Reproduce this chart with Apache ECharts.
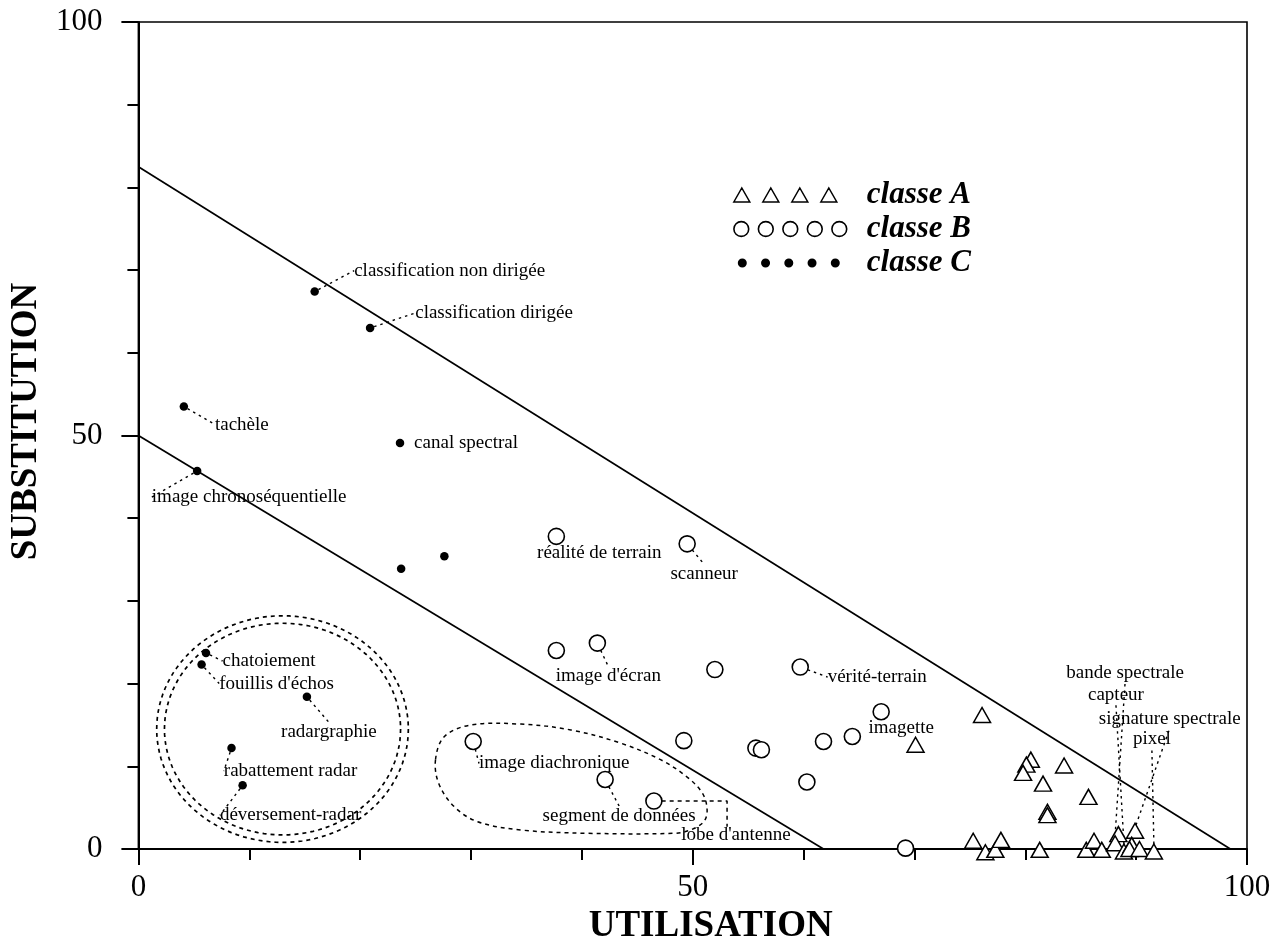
<!DOCTYPE html>
<html>
<head>
<meta charset="utf-8">
<script src="https://cdn.jsdelivr.net/npm/echarts@6/dist/echarts.min.js"></script>
<style>html,body{margin:0;padding:0;background:#fff}#c{width:1278px;height:950px}</style>
</head>
<body>
<div id="c"></div>
<script>
// ---------- data ----------
const xTickValues = [0, 50, 100];
const yTickValues = [0, 50, 100];

const classANames = ['', '', '', '', '', '', '', '', '', '', '', '', '', '', '', '', '', '', '', '',
  'bande spectrale', 'capteur', 'signature spectrale', '', '', 'pixel'];
const classAX = [70.1, 76.1, 80.5, 80.1, 79.8, 83.5, 81.6, 82.0, 82.0, 85.7, 75.3, 76.4, 77.3, 77.8, 81.3, 85.5, 86.2, 86.9, 88.4, 89.9,
  88.1, 88.9, 89.6, 89.4, 90.3, 91.6];
const classAY = [12.6, 16.2, 10.8, 10.2, 9.2, 10.1, 7.9, 4.5, 4.1, 6.3, 1.0, -0.4, -0.1, 1.1, -0.1, -0.1, 1.0, -0.1, 1.8, 2.2,
  0.7, -0.3, 0.5, 0.0, 0.0, -0.3];

const classBNames = ['réalité de terrain', 'scanneur', '', "image d'écran", '', 'vérité-terrain', 'image diachronique', '', '', '', '', '',
  'segment de données', "lobe d'antenne", 'imagette', '', ''];
const classBX = [37.7, 49.5, 37.7, 41.4, 52.0, 59.7, 30.2, 49.2, 55.7, 56.2, 61.8, 60.3, 42.1, 46.5, 67.0, 64.4, 69.2];
const classBY = [37.8, 36.9, 24.0, 24.9, 21.7, 22.0, 13.0, 13.1, 12.2, 12.0, 13.0, 8.1, 8.4, 5.8, 16.6, 13.6, 0.1];

const classCNames = ['classification non dirigée', 'classification dirigée', 'tachèle', 'canal spectral', 'image chronoséquentielle', '', '',
  'chatoiement', "fouillis d'échos", 'radargraphie', 'rabattement radar', 'déversement-radar'];
const classCX = [15.9, 20.9, 4.1, 23.6, 5.3, 27.6, 23.7, 6.1, 5.7, 15.2, 8.4, 9.4];
const classCY = [67.4, 63.0, 53.5, 49.1, 45.7, 35.4, 33.9, 23.7, 22.3, 18.4, 12.2, 7.7];

// boundary lines (endpoints in data units)
const lowerLine = [[0, 50], [61.8, 0]];
const upperLine = [[0, 82.5], [98.5, 0]];

// annotation enclosures (data units): [cx, cy, rx, ry]
const radarEnclosure = [[13.0, 14.5, 11.35, 13.7], [13.0, 14.5, 10.65, 12.8]];
const diachroniqueEnclosure = [[26.8, 10.8], [27.6, 13.6], [30.0, 15.0], [34.5, 15.1], [39.0, 14.4], [43.5, 12.8], [47.1, 10.8],
  [49.5, 8.7], [50.9, 6.7], [51.3, 4.7], [51.0, 3.3], [49.8, 2.3], [48.3, 1.9], [40.5, 1.9], [34.5, 2.3], [30.6, 3.3], [28.5, 5.1], [27.1, 7.9]];
const lobeLeader = [[47.2, 5.8], [53.1, 5.8], [53.1, 2.7]];

// ---------- layout (label offsets in px from point centre to label centre) ----------
const labelOffsets = {
  'classification non dirigée': [135, -21],
  'classification dirigée': [124, -15],
  'tachèle': [58, 18],
  'canal spectral': [66, 0],
  'image chronoséquentielle': [52, 26],
  'chatoiement': [63, 8],
  "fouillis d'échos": [75, 19],
  'radargraphie': [22, 35],
  'rabattement radar': [59, 23],
  'déversement-radar': [48, 30],
  'réalité de terrain': [43, 17],
  'scanneur': [17, 30],
  "image d'écran": [11, 33],
  'vérité-terrain': [77, 10],
  'image diachronique': [81, 22],
  'segment de données': [14, 36],
  "lobe d'antenne": [82, 34],
  'imagette': [20, 16],
  'bande spectrale': [10, -170],
  'capteur': [-8, -156],
  'signature spectrale': [38, -126],
  'pixel': [-2, -112]
};
const noLeader = ['canal spectral', 'réalité de terrain', 'imagette', "lobe d'antenne"];

const FONT = "'Liberation Serif', 'DejaVu Serif', 'Times New Roman', serif";

function buildItems(names, xs, ys) {
  return xs.map((x, i) => {
    const n = names[i] || '';
    return {
      name: n,
      value: [x, ys[i]],
      label: { show: n !== '' },
      labelLine: { show: n !== '' && noLeader.indexOf(n) < 0 }
    };
  });
}

const labelCfg = {
  show: true, position: 'inside', formatter: '{b}',
  fontFamily: FONT, fontSize: 19, color: '#000'
};
const labelLineCfg = { show: true, lineStyle: { color: '#000', width: 1.4, type: [2.5, 4] } };
function labelLayout(p) {
  const o = labelOffsets[p.text];
  return o ? { dx: o[0], dy: o[1] } : {};
}

// legend icons (128 x 16 boxes)
function anchors() { return 'M0,0 L0,0 M128,16 L128,16 '; }
function triIcon() {
  let s = 'path://' + anchors();
  [8, 37, 66, 95].forEach(c => { s += `M${c - 8},15 L${c},1 L${c + 8},15 Z `; });
  return s;
}
function circIcon(cs, r) {
  let s = 'path://' + anchors();
  cs.forEach(c => { s += `M${c - r},8 a${r},${r} 0 1,0 ${2 * r},0 a${r},${r} 0 1,0 ${-2 * r},0 Z `; });
  return s;
}

const chart = echarts.init(document.getElementById('c'), null, { renderer: 'canvas' });

const lineStyleBase = { color: '#000', width: 1.7 };

const option = {
  animation: false,
  backgroundColor: '#fff',
  grid: { left: 137, top: 22, right: 31, bottom: 101, show: true, borderColor: '#000', borderWidth: 1.6 },
  legend: {
    orient: 'vertical', left: 733, top: 178, padding: 0, itemGap: 0,
    itemWidth: 128, itemHeight: 16, selectedMode: false,
    textStyle: { fontFamily: FONT, fontSize: 31, fontStyle: 'italic', fontWeight: 'bold', color: '#000', lineHeight: 34 },
    data: [
      { name: 'classe A', icon: triIcon(), itemStyle: { color: '#fff', borderColor: '#000', borderWidth: 1.5 } },
      { name: 'classe B', icon: circIcon([7.5, 32, 56.5, 81, 105.5], 7.4), itemStyle: { color: '#fff', borderColor: '#000', borderWidth: 1.6 } },
      { name: 'classe C', icon: circIcon([8.5, 31.75, 55, 78.25, 101.5], 4.5), itemStyle: { color: '#000', borderWidth: 0 } }
    ]
  },
  xAxis: {
    type: 'value', min: xTickValues[0], max: xTickValues[xTickValues.length - 1], interval: xTickValues[1] - xTickValues[0],
    axisLine: { show: true, onZero: false, lineStyle: { color: '#000', width: 2 } },
    axisTick: { show: true, length: 16, lineStyle: { color: '#000', width: 2 } },
    minorTick: { show: true, splitNumber: 5, length: 11, lineStyle: { color: '#000', width: 2 } },
    splitLine: { show: false },
    axisLabel: { fontFamily: FONT, fontSize: 31, color: '#000', margin: 23 },
    name: 'UTILISATION', nameLocation: 'middle', nameGap: 53,
    nameTextStyle: { fontFamily: FONT, fontSize: 37, fontWeight: 'bold', color: '#000', padding: [0, 0, 0, 36] }
  },
  yAxis: {
    type: 'value', min: yTickValues[0], max: yTickValues[yTickValues.length - 1], interval: yTickValues[1] - yTickValues[0],
    axisLine: { show: true, onZero: false, lineStyle: { color: '#000', width: 2 } },
    axisTick: { show: true, length: 17, lineStyle: { color: '#000', width: 2 } },
    minorTick: { show: true, splitNumber: 5, length: 11, lineStyle: { color: '#000', width: 2 } },
    splitLine: { show: false },
    axisLabel: { fontFamily: FONT, fontSize: 31, color: '#000', margin: 36 },
    name: 'SUBSTITUTION', nameLocation: 'middle', nameGap: 86,
    nameTextStyle: { fontFamily: FONT, fontSize: 37, fontWeight: 'bold', color: '#000', padding: [0, 0, 0, 28] }
  },
  series: [
    { type: 'line', name: 'lower', data: lowerLine, showSymbol: false, symbol: 'none', lineStyle: lineStyleBase, silent: true, z: 1 },
    { type: 'line', name: 'upper', data: upperLine, showSymbol: false, symbol: 'none', lineStyle: lineStyleBase, silent: true, z: 1 },
    {
      type: 'custom', name: 'radarEnclosure', data: radarEnclosure, silent: true, z: 1, clip: false,
      renderItem: function (params, api) {
        const c = api.coord([api.value(0), api.value(1)]);
        const s = api.size([api.value(2), api.value(3)], [api.value(0), api.value(1)]);
        const pts = [];
        for (let k = 0; k < 120; k++) {
          const t = k / 120 * Math.PI * 2;
          pts.push([c[0] + s[0] * Math.cos(t), c[1] + s[1] * Math.sin(t)]);
        }
        return { type: 'polygon', shape: { points: pts }, style: { fill: null, stroke: '#000', lineWidth: 1.7, lineDash: [4, 4] } };
      }
    },
    {
      type: 'custom', name: 'diachroniqueEnclosure', data: diachroniqueEnclosure, silent: true, z: 1, clip: false,
      renderItem: function (params, api) {
        if (params.dataIndex !== 0) return null;
        const pts = diachroniqueEnclosure.map(p => api.coord(p));
        return { type: 'polygon', shape: { points: pts, smooth: 0.35 }, style: { fill: null, stroke: '#000', lineWidth: 1.5, lineDash: [4, 4] } };
      }
    },
    { type: 'line', name: 'lobeLeader', data: lobeLeader, showSymbol: false, symbol: 'none', silent: true, z: 1,
      lineStyle: { color: '#000', width: 1.5, type: [4, 4] } },
    {
      type: 'scatter', name: 'classe A', symbol: 'triangle', symbolSize: [17, 15], clip: false,
      itemStyle: { color: '#fff', borderColor: '#000', borderWidth: 1.5, opacity: 1 },
      label: labelCfg, labelLine: labelLineCfg, labelLayout: labelLayout,
      data: buildItems(classANames, classAX, classAY), z: 3
    },
    {
      type: 'scatter', name: 'classe B', symbol: 'circle', symbolSize: 16, clip: false,
      itemStyle: { color: '#fff', borderColor: '#000', borderWidth: 1.6, opacity: 1 },
      label: labelCfg, labelLine: labelLineCfg, labelLayout: labelLayout,
      data: buildItems(classBNames, classBX, classBY), z: 3
    },
    {
      type: 'scatter', name: 'classe C', symbol: 'circle', symbolSize: 8.5, clip: false,
      itemStyle: { color: '#000', borderWidth: 0, opacity: 1 },
      label: labelCfg, labelLine: labelLineCfg, labelLayout: labelLayout,
      data: buildItems(classCNames, classCX, classCY), z: 3
    }
  ]
};
chart.setOption(option);
</script>
</body>
</html>
